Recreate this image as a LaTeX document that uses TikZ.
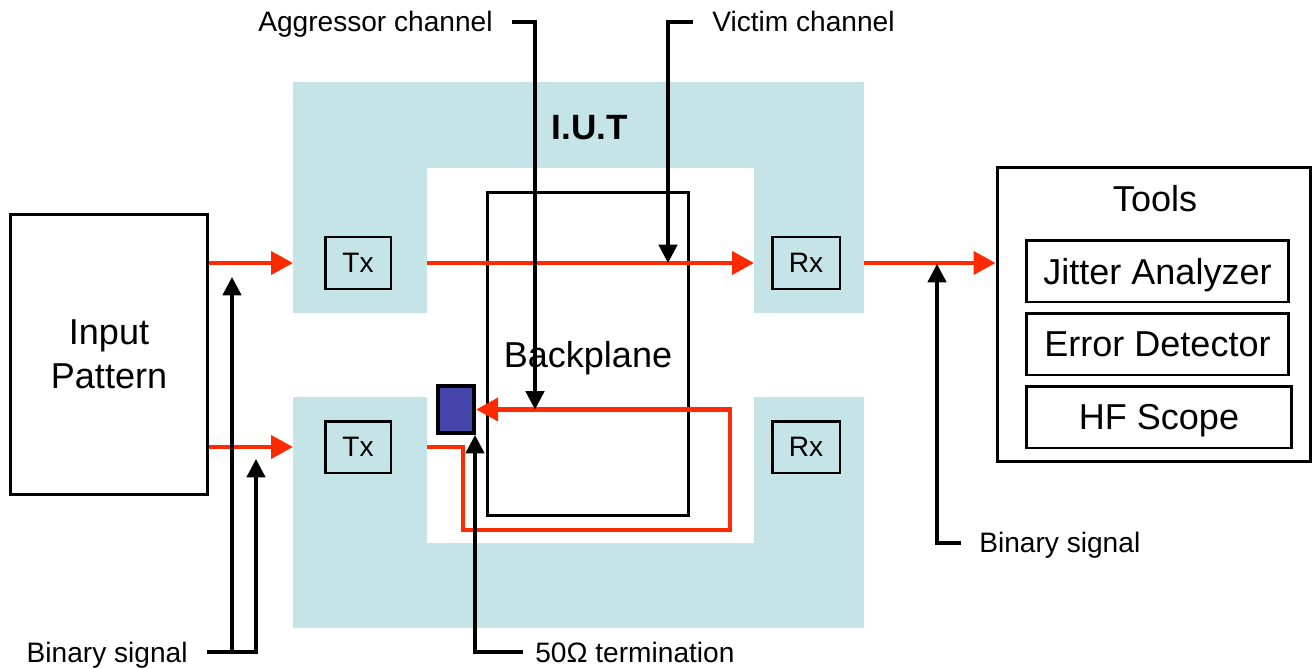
\documentclass[tikz,border=0pt]{standalone}
\usepackage{fontspec}
\setmainfont{Liberation Sans}
\usetikzlibrary{arrows.meta}
\definecolor{iutblue}{RGB}{197,228,231}
\definecolor{sigred}{RGB}{255,42,0}
\definecolor{termblue}{RGB}{68,68,170}
\tikzset{
  boxnode/.style={draw=black, line width=1.7pt, inner sep=0pt, text depth=0pt, font=\fontsize{20.5}{25}\selectfont},
  trxbox/.style={boxnode, fill=iutblue, minimum height=1.04cm, font=\fontsize{16}{19}\selectfont},
  lbl/.style={inner sep=0pt, font=\fontsize{16}{19}\selectfont},
  redline/.style={draw=sigred, line width=2.5pt},
  redarrow/.style={redline, -{Triangle[length=12.5pt,width=13pt]}},
  blkline/.style={draw=black, line width=2pt},
  blkarrow/.style={blkline, -{Triangle[length=10.5pt,width=10.5pt]}},
}
\begin{document}
\begin{tikzpicture}[x=0.02cm, y=-0.02cm]
\useasboundingbox (0,0) rectangle (1312,669);
% I.U.T regions
\fill[iutblue] (293,82) -- (864,82) -- (864,313) -- (754,313) -- (754,168) -- (427,168) -- (427,313) -- (293,313) -- cycle;
\fill[iutblue] (293,397) -- (427,397) -- (427,543) -- (754,543) -- (754,397) -- (864,397) -- (864,628) -- (293,628) -- cycle;
\coordinate (iutW) at (293,0);
\coordinate (innL) at (427,0);
\coordinate (innR) at (754,0);
\coordinate (iutE) at (864,0);
\node[font=\fontsize{20}{24}\selectfont\bfseries, inner sep=0pt, text depth=0pt] (iut) at (590,127) {I.U.T};

% boxes
\node[boxnode, minimum width=3.96cm, minimum height=5.62cm, align=center] (inp) at (109,354.5) {Input\\Pattern};
\node[trxbox, minimum width=1.32cm] (tx1) at (358,263) {Tx};
\node[trxbox, minimum width=1.36cm] (rx1) at (806,263) {Rx};
\node[trxbox, minimum width=1.32cm] (tx2) at (358,447) {Tx};
\node[trxbox, minimum width=1.36cm] (rx2) at (806,447) {Rx};
\node[boxnode, minimum width=4.04cm, minimum height=6.46cm] (bp) at (588,354) {Backplane};
\node[boxnode, minimum width=6.28cm, minimum height=5.9cm] (tools) at (1154,314.5) {};
\node[inner sep=0pt, text depth=0pt, font=\fontsize{20.5}{25}\selectfont] (toolsT) at (1155,198) {Tools};
\node[boxnode, minimum width=5.26cm, minimum height=1.24cm] (ja) at (1157.5,271) {Jitter Analyzer};
\node[boxnode, minimum width=5.26cm, minimum height=1.24cm] (ed) at (1157.5,344) {Error Detector};
\node[boxnode, minimum width=5.32cm, minimum height=1.24cm] (hf) at (1159,417) {HF Scope};
\node[draw=black, line width=2.4pt, fill=termblue, minimum width=0.72cm, minimum height=0.94cm, inner sep=0pt] (term) at (456,409.5) {};

% labels
\node[lbl, anchor=base east] (agg) at (493,32) {Aggressor channel};
\node[lbl, anchor=base west] (vic) at (712,32) {Victim channel};
\node[lbl, anchor=base east] (binL) at (188,662) {Binary signal};
\node[lbl, anchor=base west] (binR) at (979,552) {Binary signal};
\node[lbl, anchor=base west] (termL) at (535,662) {50Ω termination};

% red signal paths
\draw[redarrow] (inp.east |- tx1) -- (iutW |- tx1);
\draw[redarrow] (inp.east |- tx2) -- (iutW |- tx2);
\draw[redarrow] (innL |- tx1) -- (innR |- tx1);
\draw[redarrow] (iutE |- rx1) -- (tools.west |- rx1);
\coordinate (loopA) at (463,530);
\coordinate (loopB) at (730,409.5);
\draw[redarrow] (innL |- tx2) -| (loopA) -| (loopB) -- (term.east);

% black pointers
\coordinate (aggS) at (512,22);
\coordinate (aggT) at (535,409.5);
\draw[blkarrow] (aggS) -| (aggT);
\coordinate (vicS) at (693,22);
\coordinate (vicT) at (668,263);
\draw[blkarrow] (vicS) -| (vicT);
\coordinate (binLS) at (207,652);
\coordinate (binLT1) at (232,277);
\coordinate (binLT2) at (256,459);
\draw[blkline] (binLS) -- (binLS -| binLT1);
\draw[blkarrow] (binLS -| binLT1) -- (binLT1);
\draw[blkarrow] (binLS) -| (binLT2);
\coordinate (binRS) at (961,543);
\coordinate (binRT) at (937,264);
\draw[blkarrow] (binRS) -| (binRT);
\coordinate (termS) at (523,652);
\coordinate (termT) at (475,435);
\draw[blkarrow] (termS) -| (termT);
\end{tikzpicture}
\end{document}
